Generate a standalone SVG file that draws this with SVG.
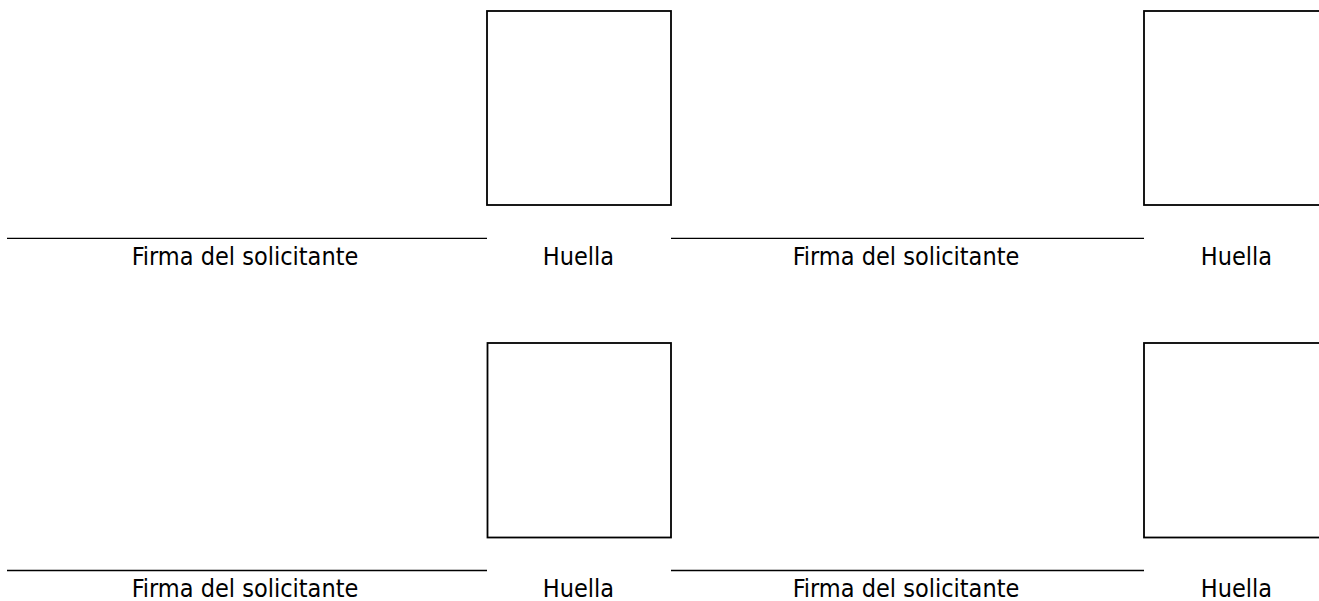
<svg xmlns="http://www.w3.org/2000/svg" width="1319" height="601" viewBox="0 0 1319 601">
<style>
.box{fill:none;stroke:#000;stroke-width:1.8}
.ln{stroke:#000;stroke-width:1.3}
.lbl{font-family:"DejaVu Sans Condensed","DejaVu Sans","Liberation Sans",sans-serif;font-size:25px;fill:#000;text-anchor:middle}
</style>
<rect width="1319" height="601" fill="#fff"/>
<g id="connectors">
<line class="ln" x1="7" y1="238.3" x2="487" y2="238.3"/>
<line class="ln" x1="671" y1="238.3" x2="1144" y2="238.3"/>
<line class="ln" x1="7" y1="570.5" x2="487" y2="570.5"/>
<line class="ln" x1="671" y1="570.5" x2="1144" y2="570.5"/>
</g>
<g id="firma1"><text class="lbl" x="245" y="264.5">Firma del solicitante</text></g>
<g id="huella1"><rect class="box" x="487" y="11" width="184" height="194"/><text class="lbl" x="578.5" y="264.5">Huella</text></g>
<g id="firma2"><text class="lbl" x="906" y="264.5">Firma del solicitante</text></g>
<g id="huella2"><rect class="box" x="1144" y="11" width="184" height="194"/><text class="lbl" x="1236.5" y="264.5">Huella</text></g>
<g id="firma3"><text class="lbl" x="245" y="596.5">Firma del solicitante</text></g>
<g id="huella3"><rect class="box" x="487.5" y="343" width="183.5" height="194.5"/><text class="lbl" x="578.5" y="596.5">Huella</text></g>
<g id="firma4"><text class="lbl" x="906" y="596.5">Firma del solicitante</text></g>
<g id="huella4"><rect class="box" x="1144" y="343" width="184" height="194.5"/><text class="lbl" x="1236.5" y="596.5">Huella</text></g>
</svg>
